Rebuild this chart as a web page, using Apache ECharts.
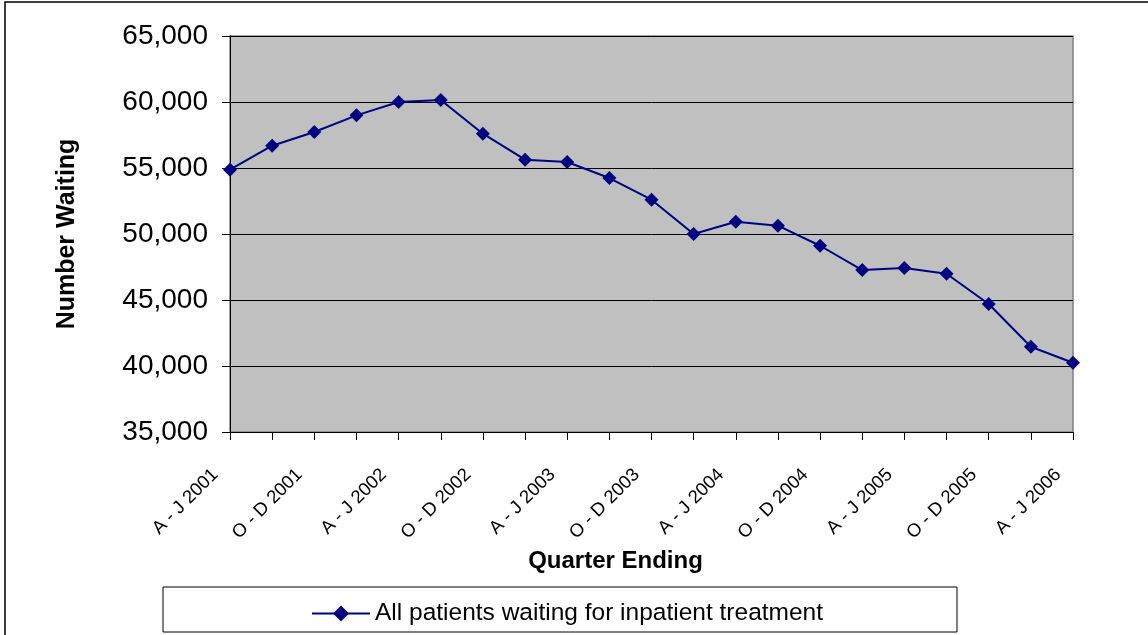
<!DOCTYPE html>
<html>
<head>
<meta charset="utf-8">
<script src="https://cdn.jsdelivr.net/npm/echarts@6/dist/echarts.min.js"></script>
<style>
  html, body { margin: 0; padding: 0; background: #fff; }
  #chart { width: 1148px; height: 635px; }
</style>
</head>
<body>
<div id="chart"></div>
<script>
// quarters (every other one is labelled on the axis)
const quarters = [
  'A - J 2001', 'J - S 2001', 'O - D 2001',
  'J - M 2002', 'A - J 2002', 'J - S 2002', 'O - D 2002',
  'J - M 2003', 'A - J 2003', 'J - S 2003', 'O - D 2003',
  'J - M 2004', 'A - J 2004', 'J - S 2004', 'O - D 2004',
  'J - M 2005', 'A - J 2005', 'J - S 2005', 'O - D 2005',
  'J - M 2006', 'A - J 2006'
]
const waiting = [
  54870, 56690, 57730,
  58990, 60000, 60150, 57600,
  55630, 55450, 54240, 52600,
  50000, 50930, 50630, 49110,
  47270, 47420, 46990, 44700,
  41460, 40250
]
const yMin = 35000
const yMax = 65000
const yStep = 5000
const seriesName = 'All patients waiting for inpatient treatment'

const font = "'Liberation Sans', Arial, Helvetica, sans-serif"
const navy = '#000080'

const chart = echarts.init(document.getElementById('chart'))

chart.setOption({
  animation: false,
  backgroundColor: '#fff',
  textStyle: { fontFamily: font, color: '#000' },
  graphic: [
    // outer chart frame (only top and left edges are in view)
    { type: 'rect', shape: { x: 5, y: 2, width: 1300, height: 800 },
      style: { fill: 'none', stroke: '#000', lineWidth: 1.5 }, silent: true },
    // legend box
    { type: 'rect', shape: { x: 163, y: 587, width: 794, height: 45 },
      style: { fill: '#fff', stroke: '#000', lineWidth: 1 }, silent: true, z: 0 }
  ],
  grid: {
    left: 230,
    right: 75,
    top: 36,
    bottom: 203,
    show: true,
    backgroundColor: '#c0c0c0',
    borderColor: '#808080',
    borderWidth: 1.5
  },
  legend: {
    data: [seriesName],
    left: 306,
    top: 596,
    itemWidth: 58,
    itemHeight: 20,
    itemGap: 5,
    textStyle: { fontFamily: font, fontSize: 24.5, color: '#000' },
    z: 5
  },
  xAxis: {
    type: 'category',
    data: quarters,
    boundaryGap: false,
    name: 'Quarter Ending',
    nameLocation: 'middle',
    nameGap: 115,
    nameTextStyle: { fontFamily: font, fontSize: 24, fontWeight: 'bold', color: '#000', padding: [0, 72, 0, 0] },
    axisLine: { lineStyle: { color: '#000', width: 1 } },
    axisTick: { show: true, interval: 0, length: 8, lineStyle: { color: '#000' } },
    axisLabel: {
      interval: 1,
      rotate: 45,
      fontSize: 18.5,
      color: '#000',
      margin: 25,
      padding: [0, 21, 0, 0]
    },
    splitLine: { show: false }
  },
  yAxis: {
    type: 'value',
    min: yMin,
    max: yMax,
    interval: yStep,
    name: 'Number Waiting',
    nameLocation: 'middle',
    nameGap: 150,
    nameTextStyle: { fontFamily: font, fontSize: 25, fontWeight: 'bold', color: '#000' },
    axisLine: { show: true, lineStyle: { color: '#000', width: 1 } },
    axisTick: { show: true, length: 8, lineStyle: { color: '#000' } },
    axisLabel: {
      fontSize: 28,
      color: '#000',
      margin: 22,
      padding: [6, 0, 0, 0],
      formatter: v => v.toLocaleString('en-US')
    },
    splitLine: { show: true, lineStyle: { color: '#000', width: 1 } }
  },
  series: [{
    name: seriesName,
    type: 'line',
    data: waiting,
    symbol: 'diamond',
    symbolSize: 14,
    showSymbol: true,
    lineStyle: { color: navy, width: 2 },
    itemStyle: { color: navy }
  }]
})
</script>
</body>
</html>
